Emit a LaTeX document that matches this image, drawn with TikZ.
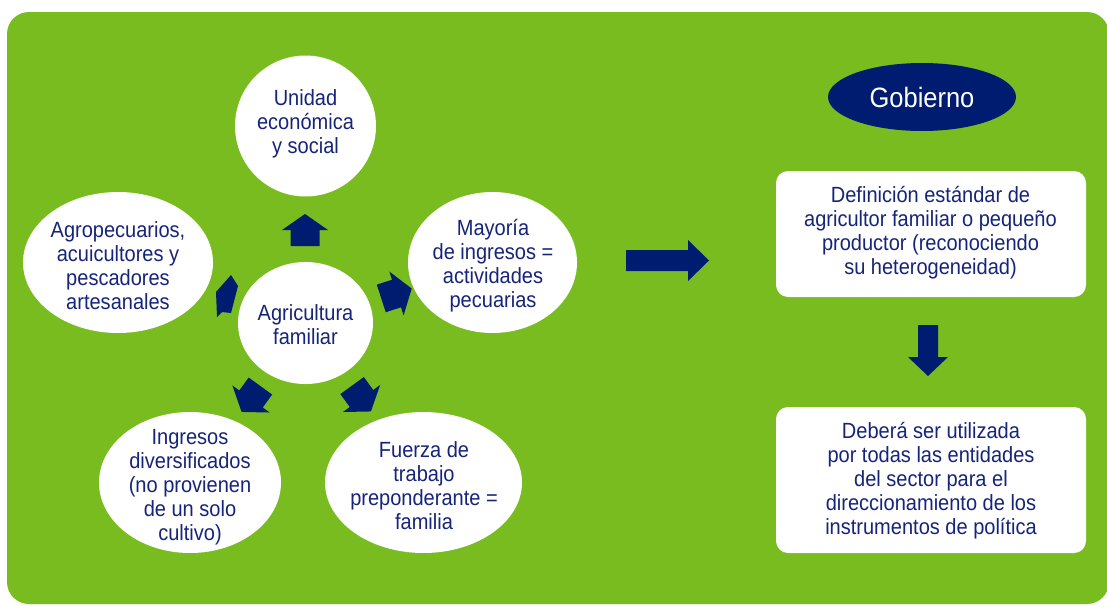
\documentclass[tikz,border=0pt]{standalone}
\usepackage{fontspec}
\setmainfont{Liberation Sans}[FakeStretch=0.91]
\usetikzlibrary{shapes.geometric}
\definecolor{agrgreen}{RGB}{120,188,32}
\definecolor{navy}{RGB}{0,28,112}
\definecolor{txtnavy}{RGB}{22,36,122}
\tikzset{
  bubble/.style={ellipse, fill=white, inner sep=0pt},
  btext/.style={text=txtnavy, align=center, font=\fontsize{22}{24}\selectfont, inner sep=0pt},
  rbox/.style={rectangle, rounded corners=12pt, fill=white, inner sep=0pt},
  blockarrow/.style={fill=navy},
}
\newcommand\agarrow[3]{\fill[blockarrow, shift={(#1,#2)}, rotate=#3]
  (-16,-14.5) -- (0,-14.5) -- (0,-23) -- (16,0) -- (0,23) -- (0,14.5) -- (-16,14.5) -- cycle;}
\begin{document}
\begin{tikzpicture}[x=1pt,y=-1pt]
\useasboundingbox (0,0) rectangle (1107,605);
\fill[white] (0,0) rectangle (1107,605);
\fill[agrgreen, rounded corners=22pt] (7,12) rectangle (1109,604);

% circles
\node[bubble, minimum width=141pt, minimum height=141pt] (unidad) at (305.5,126) {};
\node[btext] (unidadT) at (305.5,124) {Unidad\\económica\\y social};

\node[bubble, minimum width=190pt, minimum height=141pt] (agro) at (118,262.5) {};
\node[btext] (agroT) at (118,266) {Agropecuarios,\\acuicultores y\\pescadores\\artesanales};

\node[bubble, minimum width=135pt, minimum height=122pt] (centro) at (305.5,323) {};
\node[btext] (centroT) at (305.5,324.5) {Agricultura\\familiar};

\node[bubble, minimum width=169pt, minimum height=141pt] (mayoria) at (492.5,262.5) {};
\node[btext] (mayoriaT) at (493,266) {Mayoría\\de ingresos =\\actividades\\pecuarias};

\node[bubble, minimum width=182pt, minimum height=141pt] (ingresos) at (190,482.5) {};
\node[btext] (ingresosT) at (190,487) {Ingresos\\diversificados\\(no provienen\\de un solo\\cultivo)};

\node[bubble, minimum width=197pt, minimum height=141pt] (fuerza) at (423.5,482.5) {};
\node[btext] (fuerzaT) at (424,486) {Fuerza de\\trabajo\\preponderante =\\familia};

% government side
\node[ellipse, fill=navy, minimum width=188pt, minimum height=68pt, inner sep=0pt] (gob) at (922,97) {};
\node[text=white, font=\fontsize{28}{30}\selectfont, inner sep=0pt] (gobT) at (922,97.5) {Gobierno};

\node[rbox, minimum width=310pt, minimum height=126pt] (def) at (931,234) {};
\node[btext] (defT) at (930.5,233) {Definición estándar de\\agricultor familiar o pequeño\\productor (reconociendo\\su heterogeneidad)};

\node[rbox, minimum width=310pt, minimum height=146pt] (uso) at (931,480) {};
\node[btext] (usoT) at (931,481) {Deberá ser utilizada\\por todas las entidades\\del sector para el\\direccionamiento de los\\instrumentos de política};

% block arrows
\fill[blockarrow] (626,250) -- (688,250) -- (688,240) -- (709,260.5) -- (688,281) -- (688,271) -- (626,271) -- cycle;
\fill[blockarrow] (918,325) -- (938,325) -- (938,357) -- (948,357) -- (928,376) -- (908,357) -- (918,357) -- cycle;

% radial arrows
\agarrow{305}{230}{90}
\agarrow{396.5}{293.5}{18}
\agarrow{251}{399}{234}
\agarrow{361.5}{398.5}{306}
\fill[blockarrow] (231,275) -- (238,286) -- (231,313) -- (222,312) -- (217,317) -- (216,292) -- cycle;
\end{tikzpicture}
\end{document}
